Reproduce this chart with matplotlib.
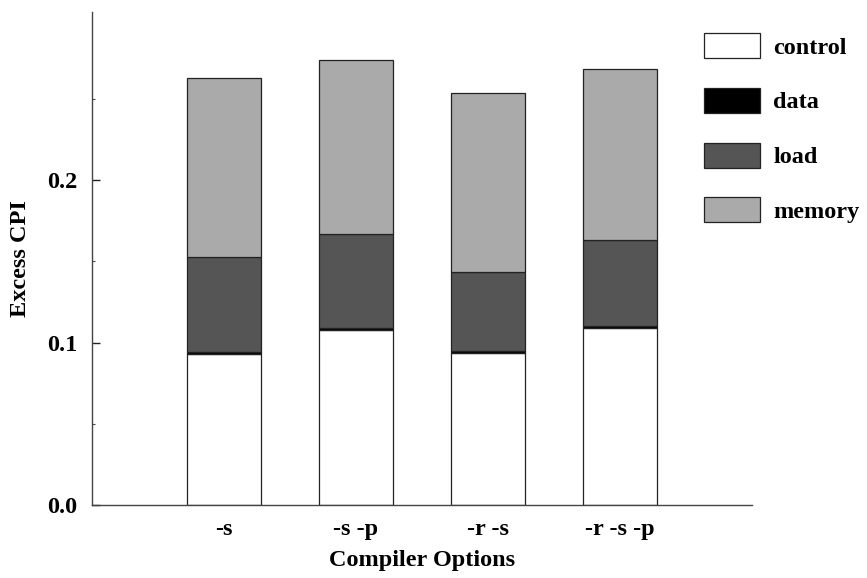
import numpy as np
import matplotlib
matplotlib.use("Agg")
import matplotlib.pyplot as plt
from matplotlib.patches import Patch
from matplotlib.ticker import FixedLocator, FormatStrFormatter

# values
options = ["-s", "-s -p", "-r -s", "-r -s -p"]
control = [0.0932, 0.1075, 0.0936, 0.1090]
data = [0.0012, 0.0012, 0.0012, 0.0012]
load = [0.0582, 0.0581, 0.0484, 0.0529]
memory = [0.1099, 0.1072, 0.1101, 0.1052]

major_ticks = [0.0, 0.1, 0.2]
minor_ticks = [0.05, 0.15, 0.25]

series = [("control", control, "white"),
          ("data", data, "black"),
          ("load", load, "#555555"),
          ("memory", memory, "#aaaaaa")]

plt.rcParams["font.family"] = ["Liberation Serif", "DejaVu Serif"]
plt.rcParams["font.weight"] = "bold"
fs = 17.5

fig = plt.figure(figsize=(8.67, 5.78), dpi=100)
ax = fig.add_axes([92.3 / 867, 73 / 578, (751.7 - 92.3) / 867, (505 - 12) / 578])

x = np.arange(1, len(options) + 1)
bottom = np.zeros(len(options))
handles = []
for name, vals, col in series:
    ax.bar(x, vals, width=0.56, bottom=bottom, color=col,
           edgecolor="#222222", linewidth=0.9)
    bottom += np.array(vals)
    handles.append(Patch(facecolor=col, edgecolor="#222222", linewidth=0.9, label=name))

ax.set_xlim(0, 5)
ax.set_ylim(0, 0.3034)
ax.spines["top"].set_visible(False)
ax.spines["right"].set_visible(False)
for s in ("left", "bottom"):
    ax.spines[s].set_color("#444444")
    ax.spines[s].set_linewidth(1.0)

ax.set_xticks(x)
ax.set_xticklabels(options, fontsize=fs, fontweight="bold")
ax.tick_params(axis="x", length=0, pad=10)

ax.yaxis.set_major_locator(FixedLocator(major_ticks))
ax.yaxis.set_minor_locator(FixedLocator(minor_ticks))
ax.yaxis.set_major_formatter(FormatStrFormatter("%.1f"))
ax.tick_params(axis="y", which="major", direction="in", length=5.8, width=1.0,
               pad=10.5, labelsize=fs, color="#222222")
ax.tick_params(axis="y", which="minor", direction="in", length=2.2, width=0.8,
               color="#444444")
for lab in ax.get_yticklabels():
    lab.set_fontweight("bold")

ax.set_xlabel("Compiler Options", fontsize=fs, fontweight="bold", labelpad=7)
ax.set_ylabel("Excess CPI", fontsize=fs, fontweight="bold", va="center")
ax.yaxis.set_label_coords(-(92.3 - 21) / (751.7 - 92.3), 0.5)

fig.legend(handles=handles, loc="upper left",
           bbox_to_anchor=(704 / 867, 1 - 33 / 578),
           frameon=False, prop={"weight": "bold", "size": fs},
           handlelength=2.3, handleheight=1.2, handletextpad=0.55,
           labelspacing=1.2, borderpad=0, borderaxespad=0)

fig.savefig("out.png", dpi=100)
